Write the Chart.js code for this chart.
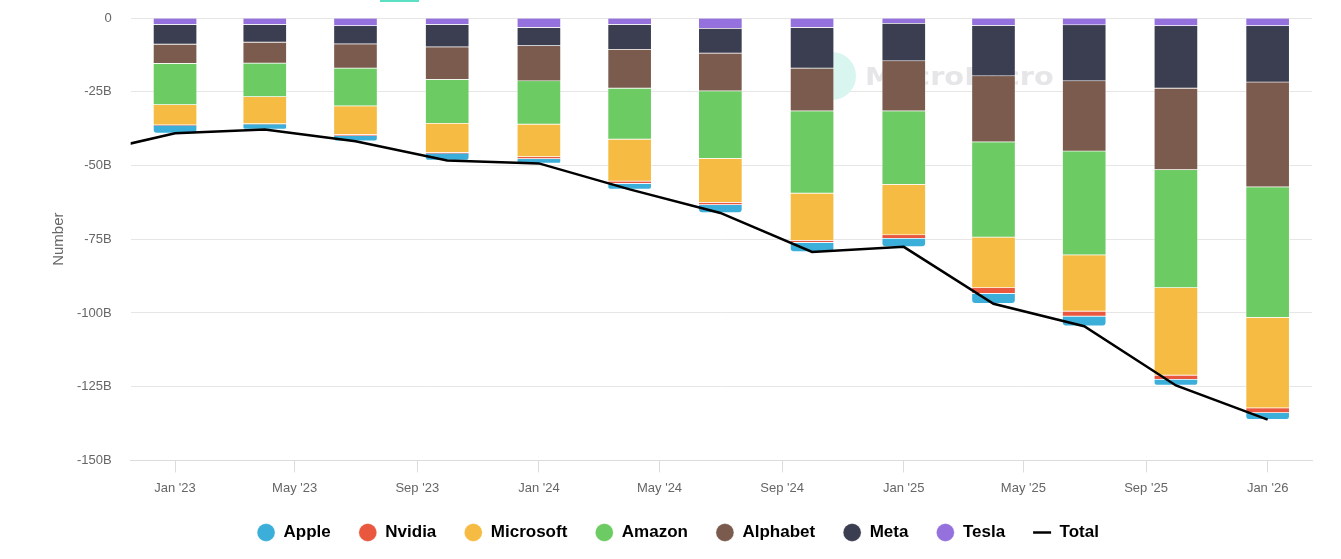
<!DOCTYPE html>
<html>
<head>
<meta charset="utf-8">
<script src="https://cdn.jsdelivr.net/npm/chart.js@4.4.1/dist/chart.umd.min.js"></script>
<style>
  html, body { margin: 0; padding: 0; background: #fff; }
  #wrap { width: 1341px; height: 559px; position: relative; }
</style>
</head>
<body>
<div id="wrap"><canvas id="chart"></canvas></div>
<script>
// quarter dates (first point only feeds the Total line, it sits left of the visible range)
const quarters = ['2022-10-01', '2023-01-01', '2023-04-01', '2023-07-01', '2023-10-01',
  '2024-01-01', '2024-04-01', '2024-07-01', '2024-10-01',
  '2025-01-01', '2025-04-01', '2025-07-01', '2025-10-01', '2026-01-01'];

// values in billions
const apple     = [null, -2.7, -1.8, -1.9, -2.4, -1.5, -1.9, -2.7, -3.1, -2.8, -3.4, -3.3, -2.0, -2.3];
const nvidia    = [null, -0.1, -0.1, -0.3, -0.2, -0.7, -0.8, -0.8, -0.7, -1.2, -2.0, -1.7, -1.4, -1.6];
const microsoft = [null, -6.8, -9.1, -9.7, -9.9, -11.0, -14.2, -14.9, -16.0, -17.1, -17.1, -19.1, -29.7, -30.7];
const amazon    = [null, -14.0, -11.4, -12.8, -14.9, -14.7, -17.3, -22.9, -27.9, -24.9, -32.3, -35.2, -40.0, -44.2];
const alphabet  = [null, -6.5, -7.1, -8.2, -11.0, -11.9, -13.2, -12.8, -14.5, -17.0, -22.4, -23.8, -27.6, -35.6];
const meta      = [null, -6.7, -6.0, -6.2, -7.6, -6.2, -8.4, -8.4, -13.8, -12.7, -17.1, -19.0, -21.2, -19.1];
const tesla     = [null, -2.3, -2.3, -2.7, -2.3, -3.3, -2.3, -3.6, -3.3, -1.9, -2.6, -2.4, -2.7, -2.7];
const total     = [-46.2, -39.1, -37.8, -41.8, -48.3, -49.3, -58.1, -66.1, -79.3, -77.6, -96.9, -104.5, -124.6, -136.2];

const tickDates  = ['2023-01-01', '2023-05-01', '2023-09-01', '2024-01-01', '2024-05-01',
  '2024-09-01', '2025-01-01', '2025-05-01', '2025-09-01', '2026-01-01'];
const tickLabels = ["Jan '23", "May '23", "Sep '23", "Jan '24", "May '24",
  "Sep '24", "Jan '25", "May '25", "Sep '25", "Jan '26"];

const toTime = d => Date.parse(d + 'T00:00:00Z');
const points = arr => quarters.map((d, i) => ({ x: toTime(d), y: arr[i] }));

const barSet = (label, arr, color, order, extra) => Object.assign({
  type: 'bar',
  label: label,
  data: points(arr),
  backgroundColor: color,
  borderColor: 'rgba(255,255,255,0.35)',
  borderWidth: 1,
  barThickness: 44,
  stack: 'cos',
  order: order
}, extra || {});

// faint watermark + small teal tab at the top
const watermark = {
  id: 'watermark',
  beforeDatasetsDraw(chart) {
    const ctx = chart.ctx;
    ctx.save();
    ctx.fillStyle = '#5ce0c2';
    ctx.fillRect(380, 0, 39, 2);
    ctx.fillStyle = '#d8f6ef';
    ctx.beginPath();
    ctx.arc(832, 76, 24, 0, Math.PI * 2);
    ctx.fill();
    ctx.fillStyle = '#e6e6e9';
    ctx.font = 'bold 24px "DejaVu Sans"';
    ctx.textBaseline = 'alphabetic';
    ctx.translate(865, 85);
    ctx.scale(1.2, 1);
    ctx.fillText('MacroMicro', 0, 0);
    ctx.restore();
  }
};

const tickFont = { family: 'Liberation Sans', size: 13 };

new Chart(document.getElementById('chart'), {
  type: 'bar',
  data: {
    datasets: [
      barSet('Apple', apple, '#3BAFDA', 7, { borderRadius: 4 }),
      barSet('Nvidia', nvidia, '#E9573F', 6),
      barSet('Microsoft', microsoft, '#F6BB42', 5),
      barSet('Amazon', amazon, '#6DCB63', 4),
      barSet('Alphabet', alphabet, '#7B5B4E', 3),
      barSet('Meta', meta, '#3B3E50', 2),
      barSet('Tesla', tesla, '#9471DC', 1),
      {
        type: 'line',
        label: 'Total',
        data: points(total),
        borderColor: '#000',
        backgroundColor: '#000',
        borderWidth: 2.5,
        pointRadius: 0,
        pointStyle: 'line',
        tension: 0,
        stack: 'total',
        order: 0
      }
    ]
  },
  options: {
    responsive: true,
    maintainAspectRatio: false,
    animation: false,
    layout: { padding: { left: 44, right: 29, top: 18, bottom: 8 } },
    plugins: {
      tooltip: { enabled: false },
      legend: {
        position: 'bottom',
        labels: {
          usePointStyle: true,
          pointStyleWidth: 18,
          boxHeight: 12.73,
          padding: 28,
          color: '#000',
          font: { family: 'Liberation Sans', size: 17, weight: 'bold' },
          sort: (a, b) => a.datasetIndex - b.datasetIndex
        }
      }
    },
    scales: {
      x: {
        type: 'linear',
        stacked: true,
        offset: false,
        min: Date.parse('2022-11-17T12:00:00Z'),
        max: Date.parse('2026-02-14T12:00:00Z'),
        afterBuildTicks: s => { s.ticks = tickDates.map(d => ({ value: toTime(d) })); },
        afterFit: s => { s.height -= 8; },
        grid: { offset: false, drawOnChartArea: false, tickLength: 12, color: '#dcdcdc' },
        border: { display: true, color: '#dcdcdc' },
        ticks: {
          autoSkip: false,
          maxRotation: 0,
          padding: 8,
          color: '#666',
          font: tickFont,
          callback: (v, i) => tickLabels[i]
        }
      },
      y: {
        stacked: true,
        min: -150,
        max: 0,
        afterFit: s => { s.width -= 19; s.paddingTop = 0; s.paddingBottom = 0; },
        grid: { color: '#e6e6e6', drawTicks: false },
        border: { display: false },
        ticks: {
          stepSize: 25,
          padding: 19,
          color: '#666',
          font: tickFont,
          callback: v => v === 0 ? '0' : v + 'B'
        },
        title: {
          display: true,
          text: 'Number',
          color: '#666',
          font: { family: 'Liberation Sans', size: 15 },
          padding: { top: 6, bottom: 9 }
        }
      }
    }
  },
  plugins: [watermark]
});
</script>
</body>
</html>
